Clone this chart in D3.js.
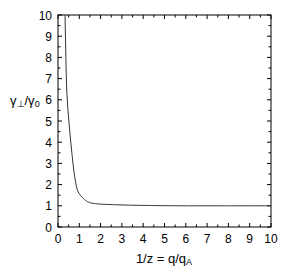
<!DOCTYPE html>
<html><head><meta charset="utf-8">
<script src="https://cdn.jsdelivr.net/npm/d3@7"></script>
<style>body{margin:0;background:#fff}svg{display:block}text{font-family:"Liberation Sans",Arial,sans-serif}</style>
</head><body><svg id="c" width="290" height="273"></svg>
<script>
const xs = [0.33, 0.37, 0.41, 0.46, 0.52, 0.60, 0.67, 0.75, 0.83, 0.91, 0.98, 1.19, 1.50, 1.97, 2.44, 3.00, 4.00, 6.00, 8.00, 10.0];
const ys = [10.0, 8.0, 6.46, 5.6, 4.89, 4.0, 3.32, 2.6, 2.1, 1.75, 1.6, 1.35, 1.15, 1.08, 1.06, 1.04, 1.02, 1.0, 1.0, 1.0];
const xTicks = [0,1,2,3,4,5,6,7,8,9,10];
const yTicks = [0,1,2,3,4,5,6,7,8,9,10];
const minorTicks = [0.5,1.5,2.5,3.5,4.5,5.5,6.5,7.5,8.5,9.5];

const svg = d3.select("#c");
const L=58, R=271, T=15, B=227;
const x = d3.scaleLinear().domain([0,10]).range([L,R]);
const y = d3.scaleLinear().domain([0,10]).range([B,T]);
const g = svg.append("g");

g.append("rect").attr("x",L).attr("y",T).attr("width",R-L).attr("height",B-T)
 .attr("fill","none").attr("stroke","#000").attr("stroke-width",1);

function ticks(vals,len){
  vals.forEach(v=>{
    g.append("line").attr("x1",x(v)).attr("x2",x(v)).attr("y1",B).attr("y2",B-len).attr("stroke","#000");
    g.append("line").attr("x1",x(v)).attr("x2",x(v)).attr("y1",T).attr("y2",T+len).attr("stroke","#000");
    g.append("line").attr("y1",y(v)).attr("y2",y(v)).attr("x1",L).attr("x2",L+len).attr("stroke","#000");
    g.append("line").attr("y1",y(v)).attr("y2",y(v)).attr("x1",R).attr("x2",R-len).attr("stroke","#000");
  });
}
ticks(xTicks,4); ticks(minorTicks,2.5);

xTicks.forEach(v=>g.append("text").attr("x",x(v)).attr("y",B+16).attr("text-anchor","middle")
  .attr("font-size",12).text(v));
yTicks.forEach(v=>g.append("text").attr("x",L-6).attr("y",y(v)+4.5).attr("text-anchor","end")
  .attr("font-size",12).text(v));

const line = d3.line().x((d,i)=>x(xs[i])).y(d=>y(d)).curve(d3.curveMonotoneY);
g.append("path").attr("d",line(ys)).attr("fill","none").attr("stroke","#333").attr("stroke-width",1);

const yl = g.append("text").attr("x",10).attr("y",105).attr("font-size",13).attr("font-family","Liberation Serif");
yl.append("tspan").text("γ");
yl.append("tspan").attr("font-size",9).attr("dy",2).text("⊥");
yl.append("tspan").attr("dy",-2).text("/γ");
yl.append("tspan").attr("font-size",9).attr("dy",2).text("0");

const xl = g.append("text").attr("x",164).attr("y",263).attr("text-anchor","middle").attr("font-size",13);
xl.append("tspan").text("1/z = q/q");
xl.append("tspan").attr("font-size",9).attr("dy",2).text("A");
</script></body></html>
